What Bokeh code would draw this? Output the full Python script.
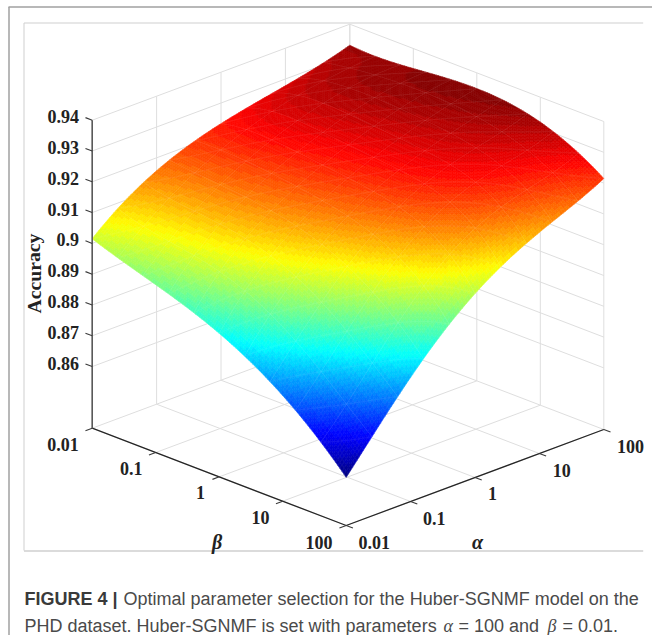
import numpy as np
from bokeh.plotting import figure
from bokeh.models import Range1d
from bokeh.core.properties import value
from bokeh.embed import file_html
from bokeh.resources import INLINE

# ---- data: accuracy at each alpha/beta tick pair ----
alpha_labels = ["0.01", "0.1", "1", "10", "100"]
beta_labels = ["0.01", "0.1", "1", "10", "100"]
z_ticks = [0.86, 0.87, 0.88, 0.89, 0.90, 0.91, 0.92, 0.93, 0.94]
z_labels = ["0.86", "0.87", "0.88", "0.89", "0.9", "0.91", "0.92", "0.93", "0.94"]
z_floor = 0.84
# rows: beta 0.01 -> 100, columns: alpha 0.01 -> 100
acc_beta_001 = [0.9015, 0.9158, 0.9233, 0.9278, 0.9332]
acc_beta_01 = [0.8945, 0.9130, 0.9240, 0.9310, 0.9335]
acc_beta_1 = [0.8866, 0.9090, 0.9215, 0.9295, 0.9349]
acc_beta_10 = [0.8743, 0.8985, 0.9170, 0.9260, 0.9319]
acc_beta_100 = [0.8556, 0.8803, 0.8997, 0.9118, 0.9215]
accuracy = np.array([acc_beta_001, acc_beta_01, acc_beta_1, acc_beta_10, acc_beta_100])

# ---- projection (layout only) ----
LEFT = np.array([91.7, 427.7])
FRONT = np.array([345.7, 525.0])
RIGHT = np.array([603.3, 429.0])
ZPX = 3080.0


def proj(a, b, z):
    a, b, z = np.asarray(a, float), np.asarray(b, float), np.asarray(z, float)
    x = LEFT[0] + a * (RIGHT[0] - FRONT[0]) + b * (FRONT[0] - LEFT[0])
    y = LEFT[1] + a * (RIGHT[1] - FRONT[1]) + b * (FRONT[1] - LEFT[1]) - (z - z_floor) * ZPX
    return x, y


def jet(t, n=64):
    i = np.clip(np.floor(t * n), 0, n - 1)
    t = (i + 0.5) / n
    r = np.clip(np.minimum(4 * t - 1.5, -4 * t + 4.5), 0, 1)
    g = np.clip(np.minimum(4 * t - 0.5, -4 * t + 3.5), 0, 1)
    b = np.clip(np.minimum(4 * t + 0.5, -4 * t + 2.5), 0, 1)
    return r, g, b


def basis(u, n=5):
    nodes = np.linspace(0, 1, n)
    out = np.ones((len(u), n))
    for j in range(n):
        for k in range(n):
            if k != j:
                out[:, j] *= (u - nodes[k]) / (nodes[j] - nodes[k])
    return out


# shading of the cells between the read grid values (as a shaded surface plot does)
N = 120
u = np.linspace(0, 1, N + 1)
B = basis(u)
Z = B @ accuracy @ B.T  # Z[b, a]
zmin, zmax = accuracy.min(), accuracy.max()

p = figure(width=652, height=635, output_backend="svg", toolbar_location=None,
           x_range=Range1d(0, 652), y_range=Range1d(635, 0), min_border=0,
           outline_line_color=None)
p.axis.visible = False
p.grid.visible = False
p.background_fill_color = "white"
p.border_fill_color = "white"

# page rules and figure box
p.line([8.5, 8.5], [6.5, 635], line_color="#a0a0a0", line_width=1.5)
p.line([8, 652], [6.5, 6.5], line_color="#a0a0a0", line_width=1.5)
p.line([23.5, 23.5], [22.5, 550], line_color="#cfcfcf", line_width=1)
p.line([23.5, 642.7], [22.5, 22.5], line_color="#cfcfcf", line_width=1)
p.line([23.5, 642.7], [550.5, 550.5], line_color="#cfcfcf", line_width=1.6)

# walls and floor grid
ticks = np.linspace(0, 1, 5)
gx, gy = [], []
for t in ticks:
    x, y = proj([t, t], [0, 0], [z_floor, z_ticks[-1]]); gx.append(x); gy.append(y)
    x, y = proj([1, 1], [t, t], [z_floor, z_ticks[-1]]); gx.append(x); gy.append(y)
    x, y = proj([t, t], [0, 1], [z_floor, z_floor]); gx.append(x); gy.append(y)
    x, y = proj([0, 1], [t, t], [z_floor, z_floor]); gx.append(x); gy.append(y)
for zt in z_ticks:
    x, y = proj([0, 1, 1], [0, 0, 1], [zt, zt, zt]); gx.append(x); gy.append(y)
p.multi_line([list(v) for v in gx], [list(v) for v in gy], line_color="#dedede", line_width=1)

# surface, back to front
xs, ys, cols = [], [], []
for j in range(N):
    for i in range(N - 1, -1, -1):
        aa = [u[i], u[i + 1], u[i + 1], u[i]]
        bb = [u[j], u[j], u[j + 1], u[j + 1]]
        zz = [Z[j, i], Z[j, i + 1], Z[j + 1, i + 1], Z[j + 1, i]]
        x, y = proj(aa, bb, zz)
        xs.append(np.round(x, 2).tolist()); ys.append(np.round(y, 2).tolist())
        r, g, b = jet((np.mean(zz) - zmin) / (zmax - zmin))
        cols.append("#%02x%02x%02x" % (int(r * 255), int(g * 255), int(b * 255)))
p.patches(xs, ys, fill_color=cols, line_color=cols, line_width=0.6)

# faint triangular mesh on the surface
mx, my = [], []
M = 10
step = N // M
for k in range(0, N + 1, step):
    x, y = proj(u, np.full_like(u, u[k]), Z[k, :]); mx.append(x.tolist()); my.append(y.tolist())
    x, y = proj(np.full_like(u, u[k]), u, Z[:, k]); mx.append(x.tolist()); my.append(y.tolist())
for d in range(-N + step, N, step):
    i = np.arange(max(0, -d), min(N, N - d) + 1)
    j = i + d
    x, y = proj(u[i], u[j], Z[j, i]); mx.append(x.tolist()); my.append(y.tolist())
p.multi_line(mx, my, line_color="white", line_alpha=0.10, line_width=0.8)

# axes
tkx, tky = [], []
ad = (RIGHT - FRONT) / np.linalg.norm(RIGHT - FRONT) * 7.2
bd = (FRONT - LEFT) / np.linalg.norm(FRONT - LEFT) * 7.2
x, y = proj([0, 0, 1], [0, 1, 1], [z_floor] * 3)
p.line(x, y, line_color="#262626", line_width=1.3)
x, y = proj([0, 0], [0, 0], [z_floor, z_ticks[-1]])
p.line(x, y, line_color="#5a5a5a", line_width=1.6)
for t in ticks:
    x, y = proj(0, t, z_floor)
    tkx.append([float(x), float(x) - ad[0]]); tky.append([float(y), float(y) - ad[1]])
    x, y = proj(t, 1, z_floor)
    tkx.append([float(x), float(x) + bd[0]]); tky.append([float(y), float(y) + bd[1]])
for zt in z_ticks:
    x, y = proj(0, 0, zt)
    tkx.append([float(x), float(x) - bd[0]]); tky.append([float(y), float(y) - bd[1]])
p.multi_line(tkx, tky, line_color="#3a3a3a", line_width=1.1)

SERIF = value("Liberation Serif")
common = dict(text_font=SERIF, text_font_size="18px", text_font_style="bold", text_color="#222222")
_, zy = proj(0, 0, np.array(z_ticks))
p.text([78.5] * len(z_ticks), (zy - 3.5).tolist(), text=z_labels, text_align="right", text_baseline="middle", **common)
beta_x = [62.5, 130.7, 200, 260, 318.5]
beta_y = [444, 468, 492, 517, 541.7]
p.text(beta_x, beta_y, text=beta_labels, text_align="center", text_baseline="middle", **common)
alpha_x = [373.7, 433.7, 492, 561.3, 630]
alpha_y = [541.7, 517.7, 493, 470, 445.7]
p.text(alpha_x, alpha_y, text=alpha_labels, text_align="center", text_baseline="middle", **common)
p.text([33], [273], text=["Accuracy"], angle=[np.pi / 2], text_align="center", text_baseline="middle",
       text_font=SERIF, text_font_size="19.7px", text_font_style="bold", text_color="#222222")
p.text([216.7, 477], [541.7, 541.7], text=["β", "α"], text_align="center", text_baseline="middle",
       text_font=SERIF, text_font_size="20px", text_font_style="bold italic", text_color="#222222")

# caption
SANS = value("Liberation Sans")
cap = dict(text_font=SANS, text_font_size="18px", text_color="#4a4a4a", text_baseline="alphabetic")
p.text([24], [598], text=["FIGURE 4 |"], text_font_style="bold", text_font=SANS, text_font_size="18px",
       text_color="#3a3a3a", text_baseline="alphabetic")
p.text([123], [598], text=["Optimal parameter selection for the Huber-SGNMF model on the"], **cap)
p.text([24], [625], text=["PHD dataset. Huber-SGNMF is set with parameters"], **cap)
p.text([458, 562], [625, 625], text=["= 100 and", "= 0.01."], **cap)
p.text([443, 547], [625, 625], text=["α", "β"], text_font=SERIF, text_font_size="18px", text_font_style="italic",
       text_color="#4a4a4a", text_baseline="alphabetic")

open("out.html", "w").write(file_html(p, INLINE))
